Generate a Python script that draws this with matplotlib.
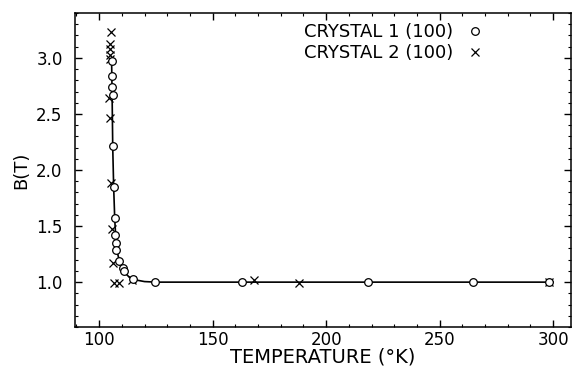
import matplotlib
matplotlib.use("Agg")
import matplotlib.pyplot as plt
from matplotlib.ticker import MultipleLocator, FormatStrFormatter

plt.rcParams['font.family'] = ['DejaVu Sans']

# crystal 1 (circles)
t1 = [105.6, 105.7, 105.8, 106.0, 106.2, 106.6, 107.0, 107.1, 107.6, 107.6,
      108.8, 110.3, 111.1, 115.1, 124.7, 162.9, 218.6, 264.6, 298.0]
b1 = [2.97, 2.84, 2.74, 2.67, 2.21, 1.85, 1.57, 1.42, 1.35, 1.29,
      1.19, 1.13, 1.10, 1.03, 1.00, 1.00, 1.00, 1.00, 1.00]

# crystal 2 (crosses)
t2 = [105.1, 104.9, 104.9, 104.9, 104.9, 104.5, 104.9, 105.1, 105.5, 106.0,
      106.6, 108.9, 114.4, 168.4, 188.2, 298.0]
b2 = [3.23, 3.12, 3.08, 3.03, 2.99, 2.64, 2.46, 1.88, 1.47, 1.17,
      0.99, 0.99, 1.02, 1.02, 0.99, 1.00]

# fitted curve
tc = [105.5, 105.7, 106.0, 106.4, 106.9, 107.4, 108.2, 109.4, 111.0, 113.0,
      116.0, 120.0, 125.0, 300.0]
bc = [2.97, 2.70, 2.20, 1.85, 1.55, 1.38, 1.25, 1.15, 1.09, 1.05,
      1.02, 1.005, 1.0, 1.0]

fig = plt.figure(figsize=(5.73, 3.72), dpi=100)
ax = fig.add_axes([0.131, 0.121, 0.866, 0.844])

ax.plot(tc, bc, color='black', lw=1.2, zorder=1)
ax.plot(t1, b1, 'o', mfc='white', mec='black', ms=5.5, mew=0.9, ls='none',
        label='CRYSTAL 1 (100)', zorder=3)
ax.plot(t2, b2, 'x', color='black', ms=5.5, mew=0.9, ls='none',
        label='CRYSTAL 2 (100)', zorder=2)

ax.set_xlim(89.4, 308)
ax.set_ylim(0.6, 3.4)
ax.xaxis.set_major_locator(MultipleLocator(50))
ax.xaxis.set_minor_locator(MultipleLocator(10))
ax.yaxis.set_major_locator(MultipleLocator(0.5))
ax.yaxis.set_minor_locator(MultipleLocator(0.1))
ax.yaxis.set_major_formatter(FormatStrFormatter('%.1f'))
ax.tick_params(which='both', direction='in', top=True, right=True, labelsize=12)
ax.tick_params(axis='y', pad=9)
ax.tick_params(axis='x', pad=3)
ax.tick_params(which='major', length=5, width=1)
ax.tick_params(which='minor', length=2.5, width=0.8)
for s in ax.spines.values():
    s.set_linewidth(1.1)

ax.set_xlabel('TEMPERATURE (°K)', fontsize=14, labelpad=-1)
ax.set_ylabel('B(T)', fontsize=13, labelpad=4)

ax.legend(loc='upper right', bbox_to_anchor=(0.835, 0.99), borderaxespad=0,
          frameon=False, markerfirst=False, fontsize=13, handlelength=0.8,
          handletextpad=0.8, labelspacing=0.15)

fig.savefig('out.png', dpi=100)
